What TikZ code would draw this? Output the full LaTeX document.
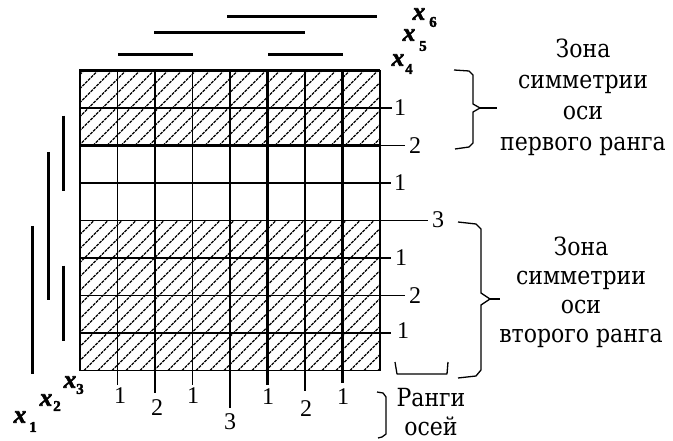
\documentclass[tikz,border=0pt]{standalone}
\usepackage{fontspec}
\setmainfont{Liberation Serif}
\newfontfamily\varfont{Liberation Serif}[FakeBold=2.5]
\newfontfamily\zfont{DejaVu Serif}[FakeStretch=0.88]
\begin{document}
\begin{tikzpicture}[x=1pt,y=-1pt,
  thinl/.style={line width=1.3pt},
  thickl/.style={line width=2.8pt},
  bar/.style={line width=3pt},
  hatch/.style={line width=1.3pt, dash pattern=on 3pt off 1pt},
  rank/.style={font=\fontsize{24}{26}\selectfont, inner sep=0pt},
  zone/.style={font=\fontsize{25}{31}\zfont, align=center, inner sep=0pt},
  varx/.style={font=\fontsize{25}{26}\varfont\bfseries\itshape, inner sep=0pt},
  varsub/.style={font=\fontsize{15}{16}\varfont\bfseries, inner sep=0pt},
  brace/.style={line width=1.3pt, line join=round}]
\useasboundingbox (0,0) rectangle (673,441);

% hatching
\begin{scope}
  \clip (80,70.5) rectangle (380,145.5);
  \foreach \a in {-5,9,...,380} \draw[hatch] (\a,145.5) -- ++(75,-75);
\end{scope}
\begin{scope}
  \clip (80,220.5) rectangle (380,370.5);
  \foreach \a in {-70,-56,...,380} \draw[hatch] (\a,370.5) -- ++(150,-150);
\end{scope}

% thin vertical lines with extensions
\draw[thinl] (80,70.5) -- (80,370.5);
\draw[thinl] (117.5,70.5) -- (117.5,385);
\draw[thinl] (192.5,70.5) -- (192.5,385);
\draw[thinl] (230,70.5) -- (230,408);
\draw[thinl] (305,70.5) -- (305,391);
% thin horizontal lines
\draw[thinl] (80,183) -- (391,183);
\draw[thinl] (80,220.5) -- (428,220.5);
\draw[thinl] (80,258) -- (391,258);
\draw[thinl] (80,295.5) -- (405,295.5);
\draw[thinl] (80,333) -- (391,333);
\draw[thinl] (80,370.5) -- (380,370.5);
\draw[thinl] (380,145.5) -- (405,145.5);
% thick lines
\draw[thickl] (155,70.5) -- (155,393);
\draw[thickl] (267.5,70.5) -- (267.5,385);
\draw[thickl] (342.5,70.5) -- (342.5,383);
\draw[thickl] (380,70.5) -- (380,370.5);
\draw[thickl] (80,145.5) -- (80,70.5) -- (380,70.5);
\draw[thickl] (80,108) -- (392,108);
\draw[thickl] (80,145.5) -- (380,145.5);

% variable bars
\draw[bar] (227,17) -- (377,17);
\draw[bar] (154,33) -- (305,33);
\draw[bar] (118,55) -- (193,55);
\draw[bar] (268,55) -- (343,55);
\draw[bar] (63,115.7) -- (63,190.7);
\draw[bar] (63,265.7) -- (63,340.7);
\draw[bar] (48,152) -- (48,300);
\draw[bar] (32,226) -- (32,374);

% variable labels
\node[varx] (x1) at (20,417) {x};   \node[varsub] (s1) at (33,427) {1};
\node[varx] (x2) at (46,400) {x};   \node[varsub] (s2) at (57,406) {2};
\node[varx] (x3) at (70,382) {x};   \node[varsub] (s3) at (80,389) {3};
\node[varx] (x4) at (398,60) {x};   \node[varsub] (s4) at (409,69) {4};
\node[varx] (x5) at (409,35) {x};   \node[varsub] (s5) at (423,46) {5};
\node[varx] (x6) at (419,14) {x};   \node[varsub] (s6) at (433,22) {6};

% rank labels right
\node[rank] (r1) at (400,108) {1};
\node[rank] (r2) at (415,146) {2};
\node[rank] (r3) at (400,183) {1};
\node[rank] (r4) at (438,220) {3};
\node[rank] (r5) at (401,258) {1};
\node[rank] (r6) at (415,296) {2};
\node[rank] (r7) at (403,331) {1};
% rank labels bottom
\node[rank] (c1) at (120,396) {1};
\node[rank] (c2) at (157,408) {2};
\node[rank] (c3) at (193,396) {1};
\node[rank] (c4) at (230,422) {3};
\node[rank] (c5) at (268,397) {1};
\node[rank] (c6) at (306,409) {2};
\node[rank] (c7) at (343,397) {1};

% braces
\draw[brace] (454,70) -- (469,71) -- (473,75) -- (473,104) -- (480,108) -- (473,112) -- (473,143) -- (469,147) -- (455,149);
\draw[brace] (480,108) -- (497,108);
\draw[brace] (458,222) -- (476,224) -- (481,229) -- (481,293) -- (490,299) -- (481,305) -- (481,370) -- (476,376) -- (458,378);
\draw[brace] (490,299) -- (500,299);
\draw[brace] (395,362) -- (397,374) -- (447,374) -- (448,362);
\draw[brace] (377,392) -- (383,393) -- (386,397) -- (386,434) -- (382,437) -- (378,438);

% texts
\node[zone] (z1) at (583,97) {Зона\\симметрии\\оси\\первого ранга};
\node[zone, font=\fontsize{25}{29}\zfont] (z2) at (581,292) {Зона\\симметрии\\оси\\второго ранга};
\node[zone, font=\fontsize{25}{29}\zfont] (rk) at (431,412) {Ранги\\осей};
\end{tikzpicture}
\end{document}
